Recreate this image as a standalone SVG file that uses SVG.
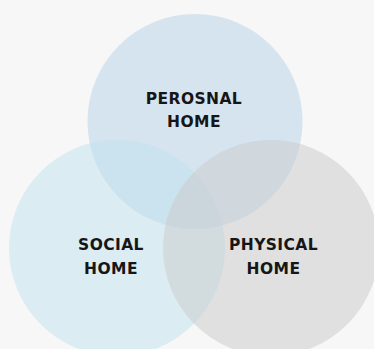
<svg xmlns="http://www.w3.org/2000/svg" width="374" height="349" viewBox="0 0 374 349">
  <style>
    .c { opacity: 0.5; }
    .t { font-family: "DejaVu Sans", "Liberation Sans", sans-serif; font-weight: bold; font-size: 15.5px; fill: #161616; text-anchor: middle; letter-spacing: 0.4px; }
  </style>
  <rect width="374" height="349" fill="#f7f7f7"/>
  <g id="personal-home">
    <circle class="c" cx="195" cy="121.5" r="107.5" fill="#b5d1e9"/>
  </g>
  <g id="social-home">
    <circle class="c" cx="117" cy="248" r="108" fill="#bfe1ed"/>
  </g>
  <g id="physical-home">
    <circle class="c" cx="271" cy="248" r="108" fill="#c9c9c9"/>
  </g>
  <g id="connectors"></g>
  <g id="labels">
    <text class="t" x="194" y="103.5">PEROSNAL</text>
    <text class="t" x="194" y="126.5">HOME</text>
    <text class="t" x="111" y="249.5">SOCIAL</text>
    <text class="t" x="111" y="273.5">HOME</text>
    <text class="t" x="273.5" y="249.5">PHYSICAL</text>
    <text class="t" x="273.5" y="273.5">HOME</text>
  </g>
</svg>
